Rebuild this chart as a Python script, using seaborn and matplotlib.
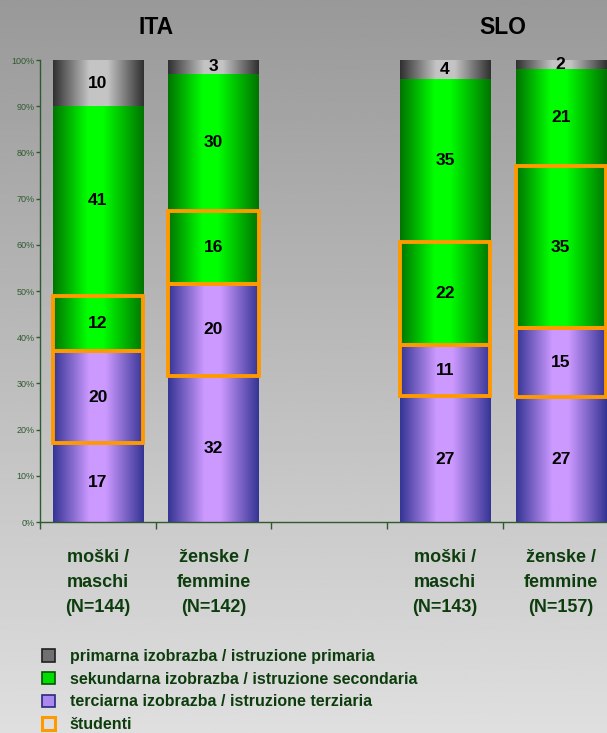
import numpy as np
import matplotlib
matplotlib.use("Agg")
import matplotlib.pyplot as plt
import matplotlib.transforms as mtransforms
from matplotlib.colors import LinearSegmentedColormap
from matplotlib.patches import Patch
import seaborn as sns

plt.rcParams["font.family"] = ["Liberation Sans", "DejaVu Sans"]

# podatki (deleži v %)
groups = ["ITA", "SLO"]
categories = ["moški /\nmaschi\n(N=144)", "ženske /\nfemmine\n(N=142)",
              "moški /\nmaschi\n(N=143)", "ženske /\nfemmine\n(N=157)"]
order = [categories[0], categories[1], " ", categories[2], categories[3]]

terciarna = [17, 32, 27, 27]
terciarna_stud = [20, 20, 11, 15]
sekundarna_stud = [12, 16, 22, 35]
sekundarna = [41, 30, 35, 21]
primarna = [10, 3, 4, 2]

legend_labels = ["primarna izobrazba / istruzione primaria",
                 "sekundarna izobrazba / istruzione secondaria",
                 "terciarna izobrazba / istruzione terziaria",
                 "študenti"]

dark_green = "#0d3d0d"
axis_green = "#2f5a2f"
orange = "#ff9900"

cm_violet = LinearSegmentedColormap.from_list(
    "violet", [(0, "#343494"), (0.4, "#cc99ff"), (0.58, "#cc99ff"), (1, "#343494")])
cm_green = LinearSegmentedColormap.from_list(
    "green", [(0, "#007400"), (0.38, "#00ff00"), (0.55, "#00ff00"), (1, "#007400")])
cm_gray = LinearSegmentedColormap.from_list(
    "gray", [(0, "#303030"), (0.4, "#c4c4c4"), (0.6, "#c4c4c4"), (1, "#303030")])

segments = [
    (terciarna, cm_violet, False),
    (terciarna_stud, cm_violet, True),
    (sekundarna_stud, cm_green, True),
    (sekundarna, cm_green, False),
    (primarna, cm_gray, False),
]

totals = np.sum([s[0] for s in segments], axis=0)

fig = plt.figure(figsize=(6.07, 7.33), dpi=100)

# ozadje z gradientom
bg = fig.add_axes([0, 0, 1, 1], zorder=-10)
bg.imshow(np.linspace(153, 223, 256).reshape(-1, 1) / 255, cmap="gray",
          vmin=0, vmax=1, aspect="auto", extent=(0, 1, 0, 1))
bg.axis("off")

ax = fig.add_axes([40 / 607, 1 - 522 / 733, 578.5 / 607, 462 / 733])
ax.patch.set_alpha(0)

grad = np.linspace(0, 1, 256).reshape(1, -1)
bottom = np.zeros(len(categories))

for vals, cmap, stud in segments:
    pct = np.array(vals) / totals * 100
    sns.barplot(x=categories, y=pct, order=order, width=0.78, errorbar=None,
                bottom=bottom, color="white", ax=ax)
    cont = ax.containers[-1]
    for bar in cont:
        x0, y0 = bar.get_x(), bar.get_y()
        w, h = bar.get_width(), bar.get_height()
        img = ax.imshow(grad, cmap=cmap, extent=(x0, x0 + w, y0, y0 + h),
                        aspect="auto", zorder=1.2, interpolation="bilinear")
        img.set_clip_path(bar)
        bar.set_facecolor("none")
        if stud:
            bar.set_edgecolor(orange)
            bar.set_linewidth(2.8)
            bar.set_zorder(2.5)
        else:
            bar.set_edgecolor("none")
    ax.bar_label(cont, labels=[str(v) for v in vals], label_type="center",
                 fontsize=12.5, fontweight="bold", color="black", zorder=4)
    bottom = bottom + pct

ax.set_xlim(-0.5, 4.5)
ax.set_ylim(0, 100)

ax.set_xticks(range(len(order)))
ax.set_xticklabels(order, fontsize=13, fontweight="bold", color=dark_green,
                   linespacing=1.6)
ax.tick_params(axis="x", which="major", length=0, pad=19.5)
ax.set_xticks(np.arange(-0.5, len(order), 1), minor=True)
ax.tick_params(axis="x", which="minor", length=5, width=1, color=axis_green)

ax.set_yticks(range(0, 101, 10))
ax.set_yticklabels([f"{v}%" for v in range(0, 101, 10)], fontsize=6.5,
                   color=axis_green)
ax.tick_params(axis="y", length=3, width=1, color=axis_green, pad=1)

for side in ["top", "right"]:
    ax.spines[side].set_visible(False)
for side in ["left", "bottom"]:
    ax.spines[side].set_color(axis_green)
    ax.spines[side].set_linewidth(1)
ax.set_xlabel("")
ax.set_ylabel("")

# naslova skupin
trans = mtransforms.blended_transform_factory(ax.transData, ax.transAxes)
for xpos, g in zip([0.5, 3.5], groups):
    ax.text(xpos, 1.071, g, transform=trans, ha="center", va="center",
            fontsize=16.5, fontweight="bold", color="black")

handles = [
    Patch(facecolor="#707070", edgecolor="#202020", linewidth=1.2),
    Patch(facecolor="#00dd00", edgecolor="#005500", linewidth=1.2),
    Patch(facecolor="#aa88ee", edgecolor="#2a2a80", linewidth=1.2),
    Patch(facecolor="none", edgecolor=orange, linewidth=2.2),
]
fig.legend(handles, legend_labels, loc="upper left",
           bbox_to_anchor=(42 / 607, 1 - 649 / 733), frameon=False,
           prop={"weight": "bold", "size": 11.5}, labelcolor=dark_green,
           handlelength=0.8, handleheight=0.8, handletextpad=0.95,
           labelspacing=0.48, borderpad=0, borderaxespad=0)

fig.savefig("out.png", dpi=100)
